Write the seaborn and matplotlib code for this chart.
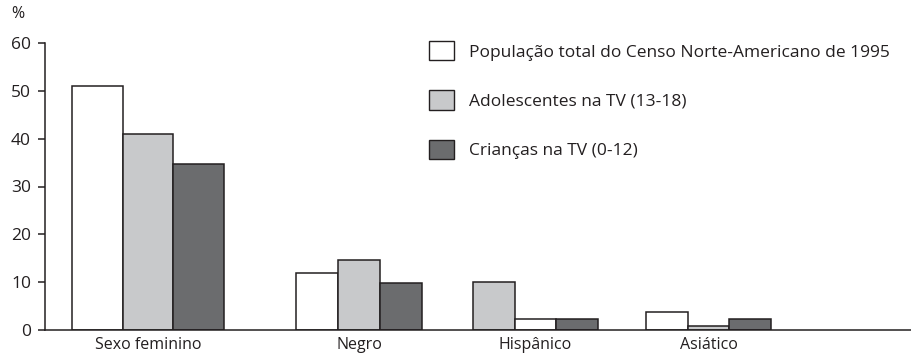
import matplotlib
matplotlib.use("Agg")
import matplotlib.pyplot as plt
import seaborn as sns
import pandas as pd
from matplotlib.patches import Patch

# Categories and series (percent)
categories = ["Sexo feminino", "Negro", "Hispânico", "Asiático"]
series_names = [
    "População total do Censo Norte-Americano de 1995",
    "Adolescentes na TV (13-18)",
    "Crianças na TV (0-12)",
]
populacao = [51.0, 11.9, 10.0, 3.8]
adolescentes = [41.0, 14.6, 2.3, 0.9]
criancas = [34.6, 9.9, 2.3, 2.2]
y_ticks = [0, 10, 20, 30, 40, 50, 60]

# Horizontal layout of the groups (axis units, one unit ~ one pixel)
group_pos = [103.0, 314.0, 490.5, 663.5]
first_bar_w = 50.5

colors = ["#ffffff", "#c8c9cb", "#6b6c6e"]
edge = "#231f20"
text_color = "#231f20"

rows = []
for name, vals in zip(series_names, [populacao, adolescentes, criancas]):
    for cat, pos, v in zip(categories, group_pos, vals):
        rows.append({"cat": cat, "pos": pos, "serie": name, "valor": v})
df = pd.DataFrame(rows)

sns.set_theme(style="white")
plt.rcParams["font.family"] = ["Open Sans", "DejaVu Sans"]

fig = plt.figure(figsize=(9.12, 3.63), dpi=100)
ax = fig.add_axes([45 / 912, 33 / 363, 1 - 45 / 912, 287 / 363])

sns.barplot(
    data=df, x="pos", y="valor", hue="serie", hue_order=series_names,
    palette=colors, native_scale=True, width=0.728,
    edgecolor=edge, linewidth=1.1, saturation=1, ax=ax, legend=False,
)

# Wider bars in the first group
for k, cont in enumerate(ax.containers):
    p = cont.patches[0]
    p.set_width(first_bar_w)
    p.set_x(group_pos[0] + (k - 1) * first_bar_w - first_bar_w / 2)

# Hispânico: first bar printed in light gray, second in white
h = categories.index("Hispânico")
ax.containers[0].patches[h].set_facecolor(colors[1])
ax.containers[1].patches[h].set_facecolor(colors[0])

ax.set_xlim(0, 867)
ax.set_ylim(0, 60)
ax.set_yticks(y_ticks)
ax.set_yticklabels([str(t) for t in y_ticks], fontsize=12.5, color=text_color)
ax.set_xticks(group_pos)
ax.set_xticklabels(categories, fontsize=11.5, color=text_color)
ax.set_xlabel("")
ax.set_ylabel("")
ax.tick_params(axis="y", length=5, width=1.1, color=edge, pad=5, left=True)
ax.tick_params(axis="x", length=0, pad=5)
for s in ["top", "right"]:
    ax.spines[s].set_visible(False)
for s in ["left", "bottom"]:
    ax.spines[s].set_color(edge)
    ax.spines[s].set_linewidth(1.1)

fig.text(11 / 912, 1 - 14 / 363, "%", fontsize=11.5, color=text_color, va="center")

# Legend
handles = [Patch(facecolor=c, edgecolor=edge, linewidth=1.0) for c in colors]
fs = 12.5
leg = fig.legend(
    handles, series_names, loc="upper left",
    bbox_to_anchor=(429 / 912, 1 - 41 / 363), frameon=False, fontsize=fs,
    handlelength=1.45, handleheight=1.35, labelspacing=1.72, handletextpad=0.85,
    borderpad=0, borderaxespad=0,
)
for t in leg.get_texts():
    t.set_color(text_color)

fig.savefig("out.png", dpi=100)
